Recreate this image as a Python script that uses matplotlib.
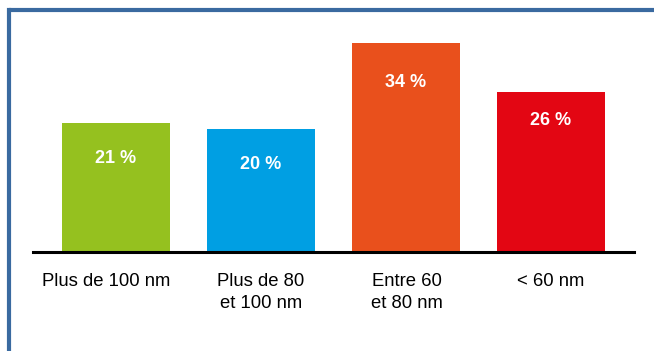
import matplotlib
matplotlib.use("Agg")
import matplotlib.pyplot as plt
from matplotlib.lines import Line2D
from matplotlib.transforms import ScaledTranslation

categories = ["Plus de 100 nm", "Plus de 80\net 100 nm", "Entre 60\net 80 nm", "< 60 nm"]
values = [21, 20, 34, 26]
value_labels = ["21 %", "20 %", "34 %", "26 %"]
colors = ["#95c11f", "#009fe3", "#e9501c", "#e30613"]

# label placement (style): pixels below bar top
label_drop_px = [35.5, 35.5, 39.5, 28]
# horizontal nudge of category labels in pixels
cat_shift_px = [-9.5, 0, 1, 0]

plt.rcParams['font.family'] = ['Liberation Sans', 'DejaVu Sans']

W, H = 654, 351
fig = plt.figure(figsize=(W / 100, H / 100), dpi=100)
fig.patch.set_facecolor("white")

ax_left = 33 / W
ax_right = 634 / W
ax_bottom = 1 - 252 / H
ppu = 6.15  # px per percent
ymax = 36
ax_height = ymax * ppu / H
ax = fig.add_axes([ax_left, ax_bottom, ax_right - ax_left, ax_height])

x = list(range(len(categories)))
ax.bar(x, values, width=0.745, color=colors, zorder=2)
ax.set_xlim(-0.572, 3.572)
ax.set_ylim(0, ymax)

for xi, v, lab, d in zip(x, values, value_labels, label_drop_px):
    ax.text(xi, v - d / ppu, lab, ha="center", va="center", color="white",
            fontsize=13, fontweight="bold", zorder=3)

for s in ["top", "right", "left"]:
    ax.spines[s].set_visible(False)
ax.spines["bottom"].set_linewidth(2.2)
ax.spines["bottom"].set_color("black")
ax.spines["bottom"].set_zorder(4)
ax.set_yticks([])
ax.set_xticks(x)
ax.set_xticklabels(categories, fontsize=13.3, linespacing=1.36, va="top")
ax.tick_params(axis="x", length=0, pad=15)

for lbl, dx in zip(ax.get_xticklabels(), cat_shift_px):
    lbl.set_transform(lbl.get_transform() + ScaledTranslation(dx / 100, 0, fig.dpi_scale_trans))

# blue frame (top and left edges)
fc = "#3a6aa0"
fig.add_artist(Line2D([9 / W, 1], [1 - 10 / H, 1 - 10 / H], color=fc, lw=3,
                      transform=fig.transFigure, solid_capstyle="butt"))
fig.add_artist(Line2D([9 / W, 9 / W], [0, 1 - 10 / H], color=fc, lw=3,
                      transform=fig.transFigure, solid_capstyle="projecting"))

fig.savefig("out.png", dpi=100)
